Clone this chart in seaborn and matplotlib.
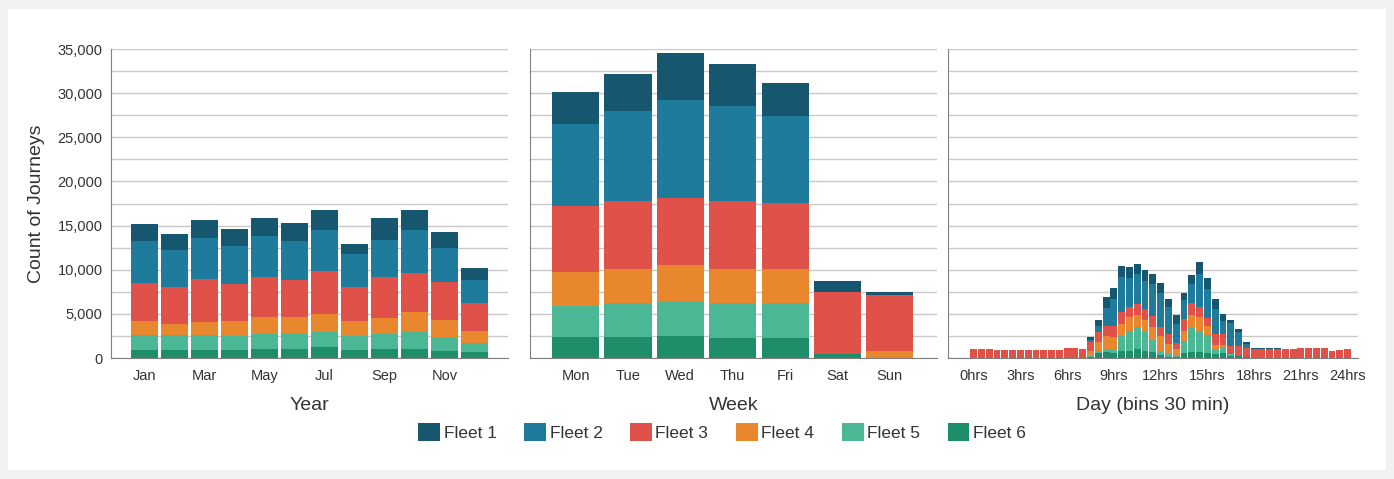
import numpy as np
import matplotlib
matplotlib.use("Agg")
import matplotlib.pyplot as plt
import seaborn as sns
from matplotlib.patches import Patch, Rectangle

# Data -- stacked bottom to top: Fleet 6 ... Fleet 1
months = ["Jan", "Feb", "Mar", "Apr", "May", "Jun", "Jul", "Aug", "Sep", "Oct", "Nov", "Dec"]
month_ticks = ["Jan", "Mar", "May", "Jul", "Sep", "Nov"]
year_f1 = [1900, 1820, 2040, 1860, 2080, 2120, 2280, 1100, 2460, 2200, 1820, 1360]
year_f2 = [4810, 4250, 4670, 4360, 4630, 4360, 4660, 3750, 4250, 4850, 3870, 2660]
year_f3 = [4290, 4100, 4810, 4210, 4480, 4250, 4890, 3910, 4590, 4470, 4210, 3150]
year_f4 = [1520, 1250, 1450, 1710, 1890, 1900, 2010, 1670, 1780, 2240, 1970, 1290]
year_f5 = [1780, 1780, 1780, 1590, 1750, 1700, 1710, 1630, 1750, 1940, 1590, 1060]
year_f6 = [870, 870, 870, 870, 1020, 990, 1250, 870, 1020, 1020, 800, 680]

days = ["Mon", "Tue", "Wed", "Thu", "Fri", "Sat", "Sun"]
week_f1 = [3640, 4130, 5230, 4740, 3830, 1210, 380]
week_f2 = [9370, 10170, 11150, 10740, 9820, 0, 0]
week_f3 = [7470, 7690, 7590, 7770, 7430, 7010, 6370]
week_f4 = [3830, 3950, 4170, 3870, 3950, 100, 760]
week_f5 = [3490, 3790, 3910, 3900, 3900, 0, 0]
week_f6 = [2390, 2390, 2460, 2280, 2280, 400, 0]

# 49 half-hour bins, 0hrs .. 24hrs
day_bins = [f"{i // 2:02d}:{'30' if i % 2 else '00'}" for i in range(49)]
hour_ticks = ["0hrs", "3hrs", "6hrs", "9hrs", "12hrs", "15hrs", "18hrs", "21hrs", "24hrs"]
day_f1 = [0, 0, 0, 0, 0, 0, 0, 0, 0, 0, 0, 0, 0, 0, 0,
          400, 680, 1210, 1210, 1250, 1210, 1140, 1140, 1140, 1140, 950, 1020, 830, 950,
          1330, 1250, 1140, 760, 380, 380, 230, 100, 100, 100, 100,
          0, 0, 0, 0, 0, 0, 0, 0, 0]
day_f2 = [0, 0, 0, 0, 0, 0, 0, 0, 0, 0, 0, 0, 0, 0, 0,
          150, 760, 2010, 3030, 3980, 3330, 3330, 3220, 3600, 3860, 3030, 2200, 2080, 2200,
          3710, 3330, 2840, 1520, 2580, 1520, 450, 0, 0, 0, 0,
          0, 0, 0, 0, 0, 0, 0, 0, 0]
day_f3 = [1020, 1020, 1000, 900, 880, 880, 880, 860, 880, 900, 900, 950, 1130, 1130, 1020,
          1100, 1140, 1140, 1250, 1330, 1140, 1250, 1210, 1330, 950, 1140, 640, 1330, 1330,
          1210, 950, 1210, 1210, 950, 1140, 980, 1070, 1070, 1070, 1070,
          1000, 1000, 1100, 1100, 1100, 1100, 800, 960, 980]
day_f4 = [0, 0, 0, 0, 0, 0, 0, 0, 0, 0, 0, 0, 0, 0, 0,
          490, 950, 1590, 1480, 1400, 1520, 1400, 1360, 1440, 1700, 1140, 760, 1210, 1400,
          1520, 950, 490, 300, 0, 0, 0, 0, 0, 0, 0,
          0, 0, 0, 0, 0, 0, 0, 0, 0]
day_f5 = [0, 0, 0, 0, 0, 0, 0, 0, 0, 0, 0, 0, 0, 0, 0,
          120, 300, 300, 380, 1630, 2270, 2460, 2160, 1400, 450, 300, 190, 1330, 2840,
          2460, 2050, 570, 640, 180, 0, 0, 0, 0, 0, 0,
          0, 0, 0, 0, 0, 0, 0, 0, 0]
day_f6 = [0, 0, 0, 0, 0, 0, 0, 0, 0, 0, 0, 0, 0, 0, 0,
          150, 530, 640, 570, 830, 830, 1020, 830, 640, 380, 150, 80, 570, 640,
          640, 570, 450, 570, 270, 270, 150, 0, 0, 0, 0,
          0, 0, 0, 0, 0, 0, 0, 0, 0]

fleets = ["Fleet 1", "Fleet 2", "Fleet 3", "Fleet 4", "Fleet 5", "Fleet 6"]
colors = ["#17566f", "#1f7b9b", "#e0514a", "#e8872d", "#4cb794", "#1e8e6a"]
y_labels = ["0", "5,000", "10,000", "15,000", "20,000", "25,000", "30,000", "35,000"]

sns.set_style("white")
plt.rcParams["font.family"] = ["Liberation Sans", "DejaVu Sans"]
text_col = "#333333"

fig = plt.figure(figsize=(13.94, 4.79), dpi=100)
fig.patch.set_facecolor("#f1f1f1")
fig.patches.append(Rectangle((0.006, 0.018), 0.988, 0.964, transform=fig.transFigure,
                             facecolor="white", edgecolor="none", zorder=-10))

ax1 = fig.add_axes([0.0796, 0.2526, 0.2848, 0.645])
ax2 = fig.add_axes([0.3802, 0.2526, 0.2920, 0.645])
ax3 = fig.add_axes([0.6800, 0.2526, 0.2940, 0.645])


def stacked(ax, cats, series, width):
    # series given top (Fleet 1) to bottom (Fleet 6); draw cumulative totals back to front
    layers = np.array(series[::-1], dtype=float)
    tops = np.cumsum(layers, axis=0)[::-1]
    for i in range(len(series)):
        sns.barplot(x=cats, y=tops[i], order=cats, color=colors[i], saturation=1,
                    width=width, errorbar=None, linewidth=0, ax=ax)


stacked(ax1, months, [year_f1, year_f2, year_f3, year_f4, year_f5, year_f6], 0.9)
stacked(ax2, days, [week_f1, week_f2, week_f3, week_f4, week_f5, week_f6], 0.9)
stacked(ax3, day_bins, [day_f1, day_f2, day_f3, day_f4, day_f5, day_f6], 0.88)

ax1.set_xlim(-1.1, 12.1)
ax2.set_xlim(-0.87, 6.9)
ax3.set_xlim(-3.3, 49.3)

ax1.set_xticks(range(0, 12, 2), month_ticks)
ax2.set_xticks(range(7), days)
ax3.set_xticks(range(0, 49, 6), hour_ticks)

for ax, xl in [(ax1, "Year"), (ax2, "Week"), (ax3, "Day (bins 30 min)")]:
    ax.set_ylim(0, 35000)
    ax.set_yticks(np.arange(0, 35001, 5000))
    ax.set_yticks(np.arange(0, 35001, 2500), minor=True)
    ax.grid(which="both", axis="y", color="#c9c9c9", linewidth=1)
    ax.set_axisbelow(True)
    ax.set_facecolor("none")
    for s in ["top", "right"]:
        ax.spines[s].set_visible(False)
    ax.spines["left"].set_color("#808080")
    ax.spines["bottom"].set_color("#808080")
    ax.tick_params(axis="x", length=0, pad=8, labelsize=10.5, labelcolor=text_col)
    ax.tick_params(axis="y", which="both", length=0, labelsize=10.5, labelcolor=text_col, pad=6)
    ax.set_xlabel(xl, fontsize=14, color=text_col, labelpad=10)
    ax.set_ylabel("")

ax1.set_yticklabels(y_labels)
ax2.set_yticklabels([])
ax3.set_yticklabels([])
ax1.set_ylabel("Count of Journeys", fontsize=14, color=text_col, labelpad=9)

handles = [Patch(facecolor=c, edgecolor="none") for c in colors]
fig.legend(handles, fleets, loc="center", bbox_to_anchor=(0.518, 0.098), ncol=6,
           frameon=False, fontsize=12.5, handlelength=1.25, handleheight=1.25,
           handletextpad=0.2, columnspacing=1.6, labelcolor=text_col)

fig.savefig("out.png", dpi=100, facecolor=fig.get_facecolor())
